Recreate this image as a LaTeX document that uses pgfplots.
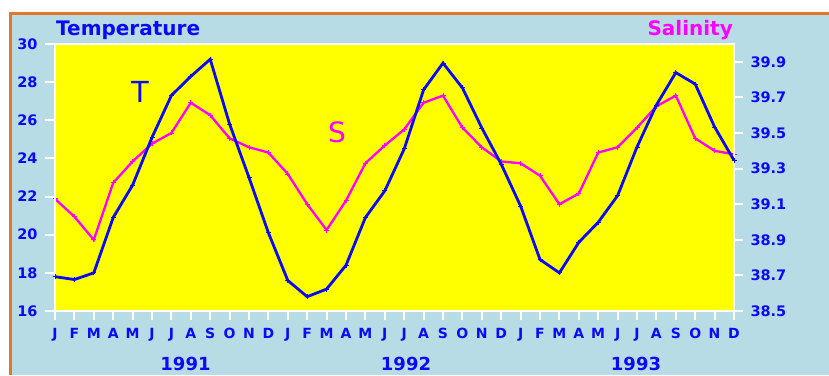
\documentclass[border=0pt]{standalone}
\usepackage{fontspec}
\setmainfont{DejaVu Sans}
\usepackage{pgfplots}
\pgfplotsset{compat=1.18}
\definecolor{tblue}{HTML}{0A0AF5}
\definecolor{smag}{HTML}{FF00FF}
\definecolor{bgblue}{HTML}{B8DCE6}
\definecolor{borange}{HTML}{E07828}
\definecolor{pyellow}{HTML}{FFFF00}
\begin{document}
\begin{tikzpicture}[x=1pt,y=1pt]
\useasboundingbox (0,0) rectangle (829,375);
\clip (0,0) rectangle (829,375);
\fill[white] (0,0) rectangle (829,375);
\fill[bgblue] (10,0) rectangle (829,362);
\draw[borange, line width=3pt] (10.5,0) -- (10.5,361.5) -- (829,361.5);
% Salinity axis (right)
\begin{axis}[
  at={(55pt,64pt)}, anchor=south west,
  width=679pt, height=267pt, scale only axis,
  xmin=0, xmax=35, ymin=38.5, ymax=40.0,
  axis background/.style={fill=pyellow},
  axis line style={white, line width=2pt},
  tick style={white, line width=2pt},
  major tick length=9pt,
  tick align=outside,
  xtick pos=bottom, ytick pos=right,
  xtick={0,...,35},
  xticklabels={J,F,M,A,M,J,J,A,S,O,N,D,J,F,M,A,M,J,J,A,S,O,N,D,J,F,M,A,M,J,J,A,S,O,N,D},
  ytick={38.5,38.7,38.9,39.1,39.3,39.5,39.7,39.9},
  yticklabels={38.5,38.7,38.9,39.1,39.3,39.5,39.7,39.9},
  ticklabel style={font=\fontsize{14.5}{15}\selectfont\bfseries, text=tblue},
  xticklabel style={font=\fontsize{14}{15}\selectfont\bfseries, yshift=-5pt},
  yticklabel style={xshift=4pt},
]
\addplot[smag, line width=2.3pt, mark=+, mark size=2.5pt, mark options={line width=0.8pt}] coordinates {
(0,39.13)(1,39.03)(2,38.90)(3,39.22)(4,39.34)(5,39.44)(6,39.50)(7,39.67)(8,39.60)(9,39.47)(10,39.42)(11,39.39)
(12,39.27)(13,39.10)(14,38.955)(15,39.12)(16,39.33)(17,39.43)(18,39.52)(19,39.67)(20,39.71)(21,39.53)(22,39.42)(23,39.34)
(24,39.33)(25,39.26)(26,39.10)(27,39.16)(28,39.39)(29,39.42)(30,39.53)(31,39.65)(32,39.71)(33,39.47)(34,39.40)(35,39.38)};
\end{axis}
% Temperature axis (left)
\begin{axis}[
  at={(55pt,64pt)}, anchor=south west,
  width=679pt, height=267pt, scale only axis,
  xmin=0, xmax=35, ymin=16, ymax=30,
  axis line style={white, line width=2pt},
  tick style={white, line width=2pt},
  major tick length=10pt,
  tick align=outside,
  xtick=\empty, ytick pos=left,
  ytick={16,18,20,22,24,26,28,30},
  yticklabels={16,18,20,22,24,26,28,30},
  ticklabel style={font=\fontsize{14.5}{15}\selectfont\bfseries, text=tblue},
  yticklabel style={xshift=-4pt},
]
\addplot[tblue, line width=2.8pt, mark=+, mark size=2.5pt, mark options={line width=0.8pt}] coordinates {
(0,17.8)(1,17.65)(2,18.0)(3,20.9)(4,22.6)(5,25.1)(6,27.3)(7,28.3)(8,29.2)(9,25.8)(10,23.0)(11,20.1)
(12,17.6)(13,16.75)(14,17.15)(15,18.4)(16,20.9)(17,22.3)(18,24.5)(19,27.6)(20,29.0)(21,27.7)(22,25.6)(23,23.7)
(24,21.5)(25,18.7)(26,18.0)(27,19.6)(28,20.65)(29,22.05)(30,24.6)(31,26.8)(32,28.5)(33,27.9)(34,25.65)(35,23.9)};
\end{axis}
\node[anchor=base west, text=tblue, font=\fontsize{20}{22}\selectfont\bfseries, inner sep=0pt] at (56,339) {Temperature};
\node[anchor=base east, text=smag, font=\fontsize{20}{22}\selectfont\bfseries, inner sep=0pt] at (733,339) {Salinity};
\node[text=tblue, font=\fontsize{29}{30}\selectfont, inner sep=0pt] at (140.5,283.5) {T};
\node[text=smag, font=\fontsize{28}{30}\selectfont, inner sep=0pt] at (337,243) {S};
\node[anchor=base, text=tblue, font=\fontsize{18}{20}\selectfont\bfseries, inner sep=0pt] at (185.5,5) {1991};
\node[anchor=base, text=tblue, font=\fontsize{18}{20}\selectfont\bfseries, inner sep=0pt] at (406,5) {1992};
\node[anchor=base, text=tblue, font=\fontsize{18}{20}\selectfont\bfseries, inner sep=0pt] at (636,5) {1993};
\end{tikzpicture}
\end{document}
